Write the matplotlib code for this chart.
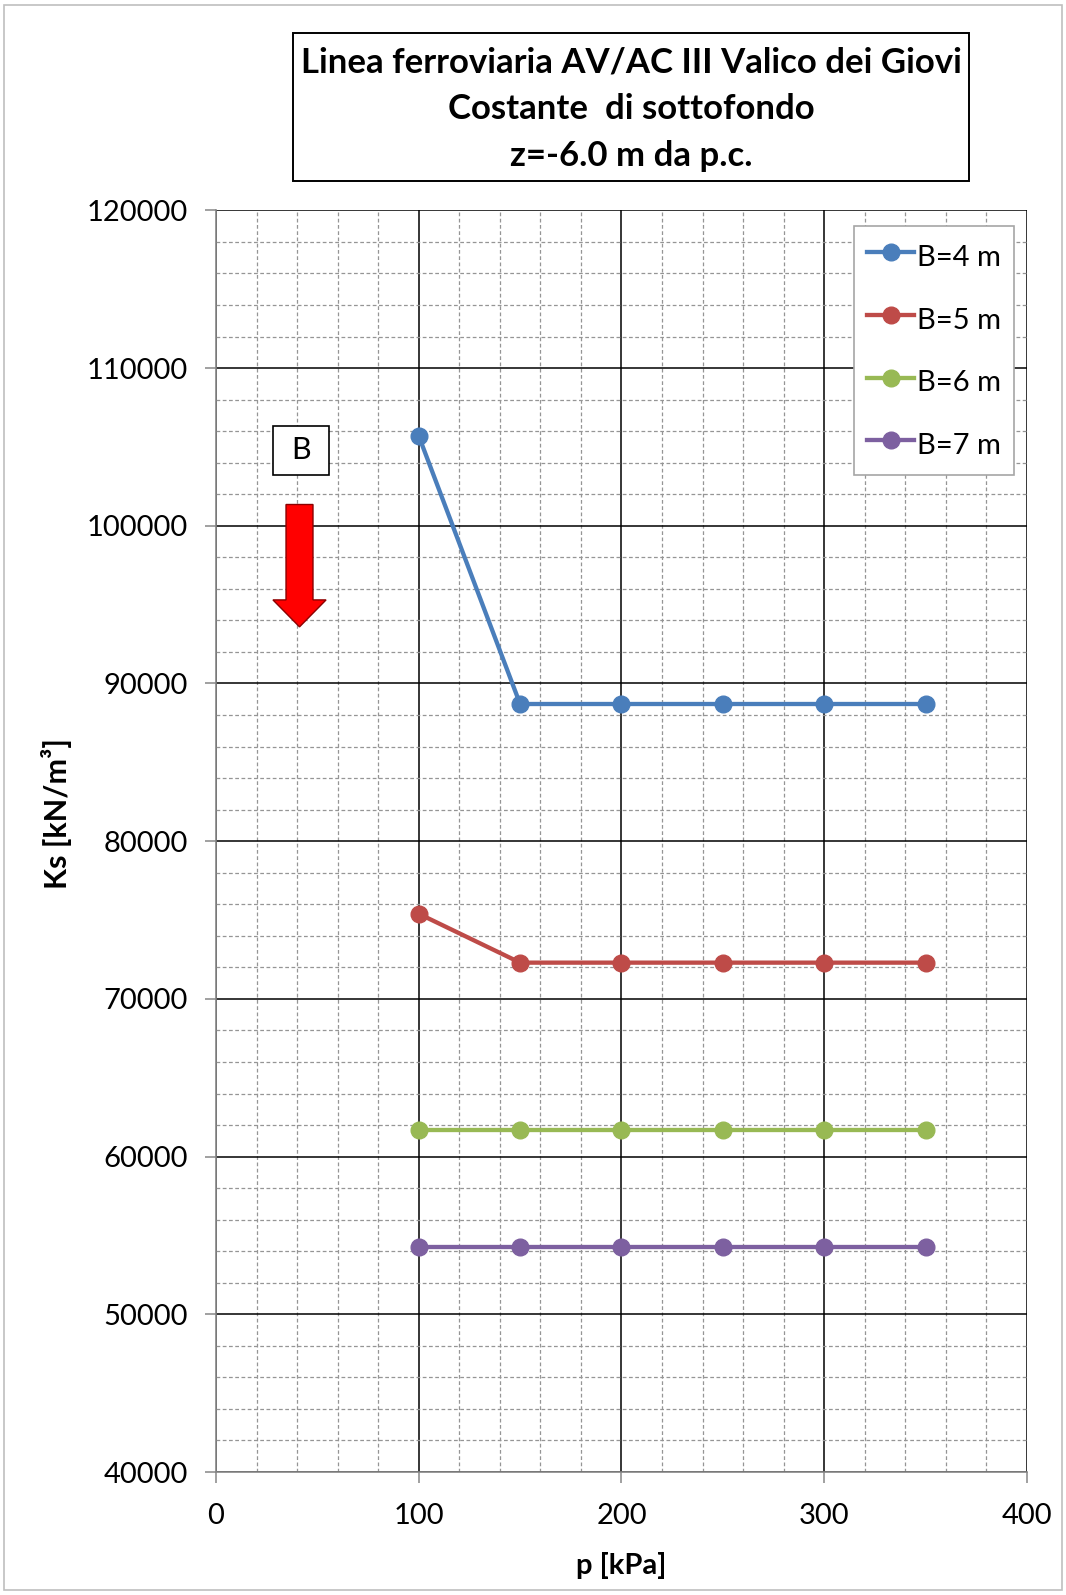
"""Costante di sottofondo Ks vs pressione p, z=-6.0 m."""

import matplotlib

matplotlib.use("Agg")
import matplotlib.pyplot as plt
from matplotlib.patches import FancyArrow, Rectangle
from matplotlib.ticker import MultipleLocator

p_kpa = [100, 150, 200, 250, 300, 350]
ks_b4 = [105700, 88700, 88700, 88700, 88700, 88700]
ks_b5 = [75400, 72300, 72300, 72300, 72300, 72300]
ks_b6 = [61700, 61700, 61700, 61700, 61700, 61700]
ks_b7 = [54300, 54300, 54300, 54300, 54300, 54300]
series = [
    ("B=4 m", ks_b4, "#4a7ebb"),
    ("B=5 m", ks_b5, "#be4b48"),
    ("B=6 m", ks_b6, "#98b954"),
    ("B=7 m", ks_b7, "#7d60a0"),
]
title_lines = ["Linea ferroviaria AV/AC III Valico dei Giovi", "Costante  di sottofondo", "z=-6.0 m da p.c."]

plt.rcParams["font.family"] = ["Lato", "DejaVu Sans"]

fig = plt.figure(figsize=(10.66, 15.95), dpi=100)
fig.patches.append(Rectangle((0.004, 0.003), 0.992, 0.994, transform=fig.transFigure,
                             fill=False, edgecolor="#bfbfbf", linewidth=1.2))
ax = fig.add_axes([0.2026, 0.0771, 0.7608, 0.791])

for label, vals, color in series:
    ax.plot(p_kpa, vals, color=color, linewidth=3.1, marker="o", markersize=12,
            label=label, zorder=3, clip_on=False)

ax.set_xlim(0, 400)
ax.set_ylim(40000, 120000)
ax.xaxis.set_major_locator(MultipleLocator(100))
ax.xaxis.set_minor_locator(MultipleLocator(20))
ax.yaxis.set_major_locator(MultipleLocator(10000))
ax.yaxis.set_minor_locator(MultipleLocator(2000))
ax.grid(which="major", color="black", linewidth=1.1, zorder=1)
ax.grid(which="minor", color="#959595", linewidth=0.9, linestyle=(0, (3, 2)), zorder=0)
ax.set_axisbelow(True)
for side in ("top", "right"):
    ax.spines[side].set_visible(False)
for side in ("left", "bottom"):
    ax.spines[side].set_color("#868686")
    ax.spines[side].set_linewidth(1.2)
ax.tick_params(which="major", direction="out", length=8, width=1.1, color="#868686",
               labelsize=21)
ax.tick_params(axis="x", which="major", pad=14)
ax.tick_params(axis="y", which="major", pad=12)
ax.tick_params(which="minor", length=0)
ax.set_xlabel("p [kPa]", fontsize=21, fontweight="bold", labelpad=17)
ax.set_ylabel("Ks [kN/m³]", fontsize=22, fontweight="bold")
ax.yaxis.set_label_coords(-0.177, 0.522)

leg = ax.legend(loc="upper right", bbox_to_anchor=(0.984, 0.988), fontsize=21, frameon=True,
                fancybox=False, edgecolor="#a6a6a6", framealpha=1, labelspacing=0.93,
                handlelength=1.6, handleheight=1.5, handletextpad=0.1, borderpad=0.45,
                borderaxespad=0)
leg.get_frame().set_linewidth(1.2)

# Box "B" and red arrow
ax.add_patch(Rectangle((28.1, 103230), 27.5, 3100, facecolor="white", edgecolor="black",
                       linewidth=1.2, zorder=4))
ax.text(41.9, 104780, "B", fontsize=22, ha="center", va="center", zorder=5)
ax.add_patch(FancyArrow(41.2, 101350, 0, -7760, width=13.3, head_width=26.2, head_length=1710,
                        length_includes_head=True, facecolor="#ff0000", edgecolor="#8b0000",
                        linewidth=1.0, zorder=4))

# Title box
fig.patches.append(Rectangle((0.275, 0.8865), 0.634, 0.0925, transform=fig.transFigure,
                             fill=False, edgecolor="black", linewidth=1.4))
for i, line in enumerate(title_lines):
    fig.text(0.592, 0.9607 - i * 0.0292, line, fontsize=25, fontweight="bold",
             ha="center", va="center")

fig.savefig("out.png", dpi=100)
